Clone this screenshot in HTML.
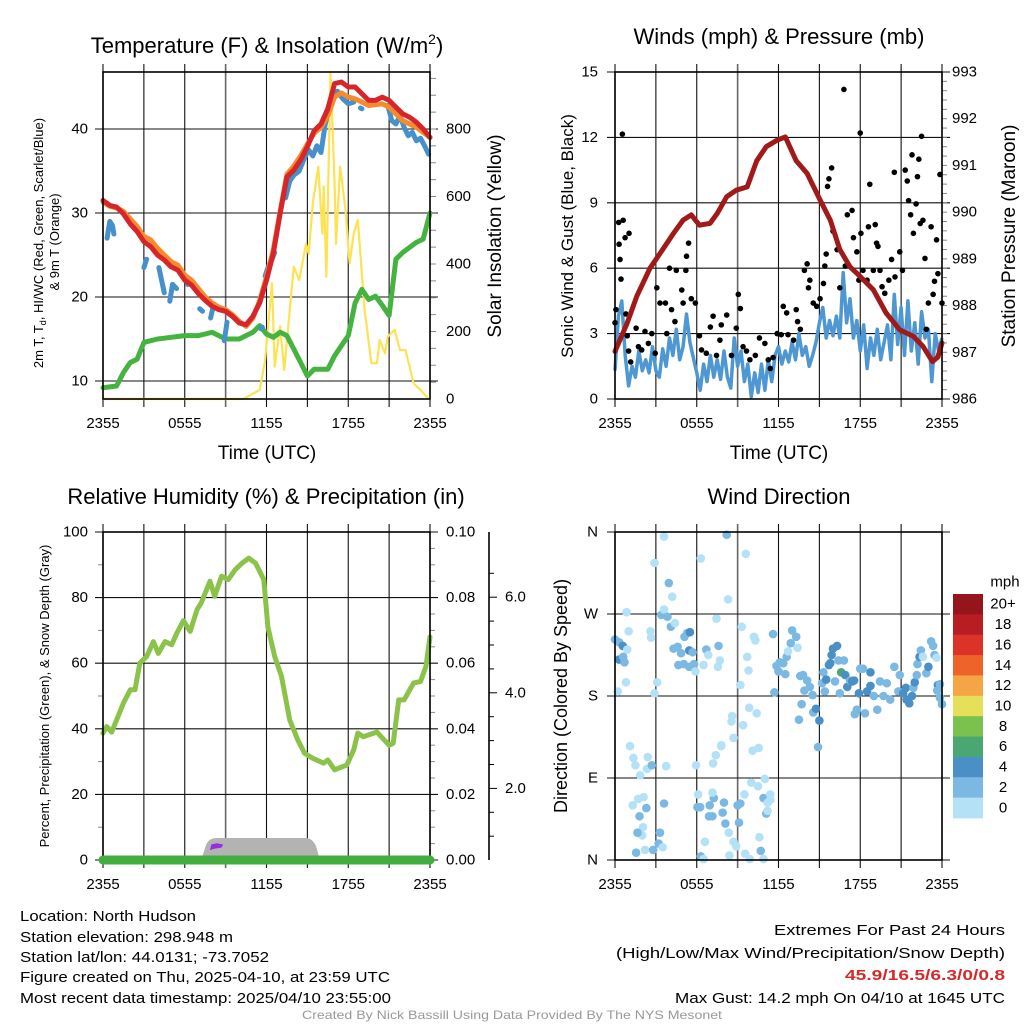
<!DOCTYPE html>
<html><head><meta charset="utf-8"><style>
html,body{margin:0;padding:0;background:#fff;}
svg{display:block;font-family:"Liberation Sans",sans-serif;}
</style></head><body>
<svg id="root" xmlns="http://www.w3.org/2000/svg" width="1024" height="1024" viewBox="0 0 1024 1024">
<rect x="0" y="0" width="1024" height="1024" fill="#fff"/>
<g font-size="22" text-anchor="middle" fill="#000">
<text x="267" y="53">Temperature (F) &amp; Insolation (W/m<tspan font-size="14" dy="-9">2</tspan><tspan dy="9">)</tspan></text>
<text x="779" y="44">Winds (mph) &amp; Pressure (mb)</text>
<text x="266" y="504">Relative Humidity (%) &amp; Precipitation (in)</text>
<text x="779" y="504">Wind Direction</text>
</g>
<g font-size="19" text-anchor="middle">
<text x="267" y="459">Time (UTC)</text>
<text x="779" y="459">Time (UTC)</text>
<text transform="translate(501,236) rotate(-90)">Solar Insolation (Yellow)</text>
<text transform="translate(1015,236) rotate(-90)">Station Pressure (Maroon)</text>
<text transform="translate(567,696) rotate(-90)" font-size="18">Direction (Colored By Speed)</text>
<text transform="translate(573,236) rotate(-90)" font-size="17">Sonic Wind &amp; Gust (Blue, Black)</text>
</g>
<g font-size="13" text-anchor="middle">
<text transform="translate(43,243) rotate(-90)">2m T, T<tspan font-size="9" dy="3">d</tspan><tspan dy="-3">, HI/WC (Red, Green, Scarlet/Blue)</tspan></text>
<text transform="translate(59,242) rotate(-90)">&amp; 9m T (Orange)</text>
<text transform="translate(49,696) rotate(-90)">Percent, Precipitation (Green), &amp; Snow Depth (Gray)</text>
</g>
<g id="p1"></g>
<g id="p2"></g>
<g id="p3"></g>
<g id="p4"></g>
<g id="cb"></g>
<g font-size="14.5" fill="#000">
<text x="20" y="921" textLength="176" lengthAdjust="spacingAndGlyphs">Location: North Hudson</text>
<text x="20" y="942" textLength="213" lengthAdjust="spacingAndGlyphs">Station elevation: 298.948 m</text>
<text x="20" y="962" textLength="249" lengthAdjust="spacingAndGlyphs">Station lat/lon: 44.0131; -73.7052</text>
<text x="20" y="982" textLength="370" lengthAdjust="spacingAndGlyphs">Figure created on Thu, 2025-04-10, at 23:59 UTC</text>
<text x="20" y="1003" textLength="371" lengthAdjust="spacingAndGlyphs">Most recent data timestamp: 2025/04/10 23:55:00</text>
<g text-anchor="end">
<text x="1005" y="935" textLength="231" lengthAdjust="spacingAndGlyphs">Extremes For Past 24 Hours</text>
<text x="1005" y="958" textLength="389" lengthAdjust="spacingAndGlyphs">(High/Low/Max Wind/Precipitation/Snow Depth)</text>
<text x="1005" y="980" fill="#d42a2a" font-weight="bold" textLength="160" lengthAdjust="spacingAndGlyphs">45.9/16.5/6.3/0/0.8</text>
<text x="1005" y="1003" textLength="330" lengthAdjust="spacingAndGlyphs">Max Gust: 14.2 mph On 04/10 at 1645 UTC</text>
</g>
<text x="512" y="1019" font-size="12" fill="#999" text-anchor="middle" textLength="420" lengthAdjust="spacingAndGlyphs">Created By Nick Bassill Using Data Provided By The NYS Mesonet</text>
</g>
</svg>
<script>
// ---------- data ----------
var timeLabels = ["2355","0555","1155","1755","2355"];
var tT = [0,0.5,1,1.5,2,2.5,3,3.5,4,4.5,5,5.5,6,6.5,7,7.5,8,8.5,9,9.5,10,10.5,11,11.5,12,12.5,13,13.5,14,14.5,15,15.5,16,16.5,17,17.5,18,18.5,19,19.5,20,20.5,21,21.5,22,22.5,23,23.5,24];
var tempRed = [31.5,30.9,30.7,29.9,28.7,27.8,26.6,26.0,25.0,24.4,23.6,23.2,22.0,21.4,20.4,19.6,18.9,18.5,18.3,17.7,16.9,16.7,17.7,19.3,22.0,25.2,29.9,34.3,35.1,36.3,37.9,39.8,40.6,42.4,45.4,45.6,45.0,45.0,44.2,43.4,43.4,43.8,43.4,42.6,41.8,41.4,40.8,40.0,39.0];
var tempOrange = [31.3,30.8,30.6,30.2,29.3,28.4,27.2,26.8,25.8,25.0,24.2,23.8,22.6,22.0,21.0,20.0,19.3,18.8,18.5,17.9,17.1,16.5,17.5,19.6,22.4,25.6,30.2,34.6,35.6,36.8,38.2,39.5,40.2,41.6,43.8,44.3,43.8,43.6,43.2,42.8,42.9,43.0,42.6,41.8,41.0,40.6,40.2,39.6,39.0];
var tempDew = [9.2,9.3,9.4,11.0,12.2,12.6,14.6,14.8,15.0,15.1,15.2,15.3,15.4,15.4,15.4,15.6,15.8,15.4,15.0,15.0,15.0,15.4,15.8,16.6,15.6,15.2,15.8,15.4,13.8,12.2,10.6,11.4,11.4,11.4,13.0,14.2,15.4,19.3,20.9,19.7,20.1,19.0,17.8,24.5,25.3,25.9,26.5,26.9,30.0];
var hiT = [0.3,0.5,0.7,0.8,null,3.0,3.2,null,4.1,4.3,4.5,null,4.9,5.1,5.4,null,6.2,6.4,null,7.1,7.3,null,7.9,8.1,null,8.9,9.1,null,11.6,11.7,null,11.9,12.1,12.4,12.6,null,13.4,13.7,14.0,14.4,14.8,15.1,15.4,15.7,16.0,16.3,16.6,16.9,17.2,17.6,18.0,18.4,null,18.9,19.0,null,20.9,21.2,21.5,21.8,22.1,22.4,22.7,23.0,23.3,23.6,23.9];
var hiVal = [27.0,29.0,28.5,27.5,null,23.5,24.5,null,23.5,22.0,20.5,null,19.5,21.5,21.0,null,21.5,22.0,null,18.6,18.3,null,17.5,19.0,null,14.8,17.0,null,16.2,16.4,null,22.5,23.5,24.5,25.3,null,31.8,33.8,34.5,35.0,36.6,37.5,36.8,38.0,37.2,40.5,42.5,43.8,44.5,43.6,43.0,43.2,null,42.5,42.4,null,42.8,41.0,40.6,41.6,40.2,39.2,39.6,38.6,38.9,38.0,37.0];
var solT = [0,10.3,11.5,11.9,12.4,12.6,13.0,13.3,14.0,14.4,14.9,15.1,15.4,15.8,16.1,16.2,16.4,16.7,17.0,17.1,17.4,17.8,18.1,18.4,18.7,19.2,19.7,20.1,20.3,20.7,20.9,21.4,21.8,22.2,22.8,23.3,23.9];
var solVal = [0,0,27,115,343,96,215,86,392,352,460,430,580,688,490,630,362,965,640,460,688,560,402,490,530,264,106,106,175,135,185,205,145,145,46,27,0];
var tempTicks = [10,20,30,40];
var solTicks = [0,200,400,600,800];

var windT = [];
for (var wi = 0; wi <= 96; wi++) { windT.push(wi / 4); }
var windVal = [1.3,3.8,4.5,2.0, 0.6,1.5,1.0,2.2, 1.3,1.8,1.2,2.4, 1.3,1.0,2.3,1.5, 2.8,2.0,3.2,1.8, 2.4,3.9,2.6,1.9, 1.2,0.4,1.6,0.8, 2.0,1.0,1.8,0.9, 2.2,1.0,0.5,2.8, 1.5,2.2,0.8,1.6, 0.1,1.2,0.3,1.6, 0.4,1.8,0.8,2.0, 2.4,1.6,2.2,1.7, 2.6,1.8,3.0,2.0, 2.4,1.5,2.0,2.6, 3.5,4.2,2.8,3.6, 2.9,3.8,2.8,5.8, 3.5,4.6,2.8,3.6, 2.2,3.4,1.4,2.8, 2.0,3.2,1.8,2.6, 3.4,1.8,4.8,2.5, 4.2,2.0,4.5,2.2, 3.5,1.6,4.0,2.8, 3.2,0.8,3.0,2.2, 2.8];
var presT = [0,0.86,1.6,2.57,3.5,4.3,5.0,5.6,6.2,6.97,7.5,8.2,8.9,9.7,10.4,11.1,11.9,12.5,13.3,14.1,15.05,15.8,16.5,17.25,18.0,18.96,19.9,20.9,21.9,22.6,23.3,23.7,24.0];
var presVal = [987.02,987.6,988.2,988.8,989.2,989.55,989.83,989.94,989.72,989.76,989.97,990.33,990.47,990.54,991.1,991.4,991.54,991.61,991.1,990.83,990.26,989.83,989.2,988.83,988.62,988.34,987.84,987.48,987.34,987.13,986.8,986.9,987.2];
var gustT = [0.0,0.07,0.3,0.27,0.54,0.6,0.37,0.44,0.74,1.03,0.8,0.9,1.0,1.15,1.55,1.72,1.96,2.2,2.45,2.7,3.07,2.95,3.3,3.7,3.8,4.0,4.15,4.4,4.5,4.9,5.0,5.25,5.4,5.2,5.6,5.9,6.2,6.35,6.7,7.0,7.2,7.45,7.7,7.8,8.2,8.55,8.9,9.05,9.2,9.4,9.65,9.9,10.3,10.6,11.0,11.25,11.4,11.6,11.9,12.2,12.35,12.6,12.7,13.1,13.3,13.4,13.6,13.9,14.1,14.2,14.3,14.55,14.8,15.05,15.3,15.4,15.5,15.6,15.7,15.9,16.0,16.3,16.5,16.8,16.9,17.05,17.4,17.5,17.75,17.9,18.0,18.05,18.2,18.5,18.6,18.7,18.96,19.1,19.2,19.3,19.45,19.6,19.8,20.1,20.3,20.5,20.55,20.9,21.1,21.3,21.45,21.55,21.7,21.8,21.9,22.1,22.2,22.3,22.4,22.5,22.6,22.75,22.85,23.0,23.2,23.35,23.45,23.6,23.7,23.85,24.0];
var gustVal = [3.5,4.1,7.1,8.1,12.15,8.2,6.4,5.5,7.4,7.6,3.9,2.9,2.2,1.7,3.25,2.4,2.25,3.1,2.55,3.0,5.1,2.1,4.4,4.4,3.0,6.0,4.1,3.55,5.9,5.0,4.4,6.55,7.15,5.9,4.6,4.4,2.9,2.25,2.1,3.3,3.8,2.0,2.7,3.4,3.85,2.0,3.25,4.8,4.15,2.4,2.2,1.8,2.0,2.8,2.55,1.8,1.4,1.9,3.0,2.95,4.25,3.95,2.95,2.7,4.1,3.55,3.2,5.9,6.2,5.1,5.45,4.4,4.25,4.6,5.3,6.1,6.65,9.75,10.1,10.6,7.7,6.85,5.1,14.2,6.1,8.45,8.65,7.4,6.75,5.45,12.2,7.6,5.9,5.45,7.9,9.85,5.9,8.0,7.15,7.0,5.9,5.15,4.85,5.45,6.4,10.4,5.6,6.75,5.9,10.5,10.0,9.1,8.45,11.2,7.6,8.95,10.2,11.0,8.05,12.05,8.2,6.45,3.2,4.4,7.9,4.8,5.4,7.3,5.75,10.3,4.4];
var windTicks = [0,3,6,9,12,15];
var presTicks = [986,987,988,989,990,991,992,993];

var rhT = [0,0.27,0.64,1.0,1.5,2.0,2.35,2.7,3.2,3.7,4.06,4.55,5.04,5.4,5.9,6.4,6.9,7.2,7.85,8.2,8.7,9.2,9.7,10.2,10.7,11.2,11.8,12.1,12.6,13.1,13.7,14.3,14.8,15.4,16.2,16.5,17.0,17.9,18.4,18.7,19.1,20.1,21.0,21.3,21.7,22.1,22.8,23.3,23.7,24.0];
var rhVal = [38.7,40.7,39,42.7,47.8,51.9,51.9,60,62,66.6,63,66.6,65.6,69,73,69.7,76.3,78.3,85,80.4,86.5,85.5,88.5,90.5,92,90.5,85.5,71,62,56,42.7,36.6,32.5,31,29.5,30.5,27.5,29,33.6,38.7,37.6,39,35,35.6,48.8,48.8,54,54.4,59,68];
var precipT = [0,24];
var precipVal = [0,0];
var rhTicks = [0,20,40,60,80,100];
var precipTicks = ["0.00","0.02","0.04","0.06","0.08","0.10"];
var snowTicks = [2,4,6];

var dirT = [0,0.3,0.57,0.3,0.6,0.7,0.9,0.85,1.0,0.8,0.2,1.1,1.35,1.5,1.3,1.85,1.7,2.1,2.3,1.8,2.05,2.0,1.65,1.55,2.2,2.4,2.35,2.7,2.8,2.9,2.9,3.1,3.2,3.3,3.5,3.4,3.6,3.6,3.85,3.95,4.2,4.1,4.4,3.6,3.75,2.6,2.65,4.3,4.6,4.85,5.1,5.3,5.5,5.45,5.7,4.65,5.05,5.45,5.8,5.9,6.3,6.5,6.7,6.85,7.2,7.4,7.6,7.7,7.55,7.45,7.8,5.95,6.1,6.05,6.25,6.95,7.25,7.15,6.9,7.15,7.9,8.0,8.1,8.35,8.7,8.9,8.4,6.6,6.3,6.5,8.2,8.3,8.55,8.6,8.7,7.8,9.2,9.3,9.4,9.5,9.1,9.0,9.2,9.55,9.9,9.6,9.7,9.8,9.85,10.0,10.1,10.2,10.3,10.4,10.55,10.5,10.6,10.7,10.9,10.9,11.1,11.2,11.0,11.4,11.2,11.4,11.6,11.7,11.85,12.0,12.1,12.35,12.5,12.6,12.7,12.9,13.0,13.3,13.4,13.5,13.6,13.8,14.1,13.9,13.7,14.3,14.5,14.55,14.75,15.0,14.9,15.2,15.3,15.4,15.5,15.7,15.8,15.9,16.0,16.3,16.4,16.15,16.5,16.6,16.8,16.9,17.05,17.25,17.4,17.55,17.6,17.75,17.9,18.0,18.2,18.35,18.5,18.75,18.75,19.0,19.25,19.45,19.7,19.95,20.2,20.5,20.8,20.9,21.15,21.35,21.4,21.6,21.8,21.9,22.0,22.15,22.2,22.35,22.45,22.6,22.85,23.0,23.2,23.35,23.45,23.6,23.7,23.85,23.65,23.85,24.0];
var dirDeg = [242,239,235,220,223,217,231,272,251,195,185,125,112,104,60,93,67,69,57,48,36,27,30,8,11,113,100,104,11,326,183,195,18,30,14,269,355,275,267,304,289,256,260,62,103,251,244,232,234,227,245,249,250,230,228,214,215,212,215,207,331,214,231,225,106,115,235,219,212,265,125,104,72,58,58,60,68,74,48,48,52,63,40,30,20,15,5,20,4,1,357,286,152,158,134,126,192,256,148,72,41,60,62,7,1,336,223,208,167,85,120,245,241,161,123,81,25,10,1,68,51,54,89,72,63,66,248,184,213,207,217,216,204,223,229,238,252,245,233,154,202,203,197,186,171,190,181,162,166,153,124,194,206,185,198,214,216,225,232,235,219,196,183,206,219,203,190,197,196,197,160,165,183,210,210,161,185,206,191,180,165,196,180,194,176,212,185,203,183,189,176,172,180,189,195,203,215,223,230,223,205,212,240,235,225,222,192,193,186,178,171];
var dirSpd = [3,3,5,5,3,3,1,1,1,1,1,1,1,1,1,1,1,1,3,3,1,1,3,3,1,1,1,3,3,1,1,1,3,3,1,3,1,1,3,3,1,3,1,3,1,1,1,3,3,3,3,3,5,5,3,3,3,3,3,1,1,1,3,1,1,1,3,1,1,1,1,1,1,3,3,3,3,1,3,3,3,3,3,1,1,1,1,1,3,1,3,1,1,1,1,1,1,1,1,1,3,3,3,1,1,1,1,1,1,1,1,1,1,1,1,1,1,3,1,3,3,1,1,1,1,1,3,3,3,3,3,3,3,3,1,3,3,3,1,3,3,3,3,3,3,3,3,3,5,5,3,3,3,3,5,5,5,5,5,5,3,3,3,7,3,5,5,3,5,5,3,3,5,3,3,3,5,5,5,3,3,3,3,3,3,3,3,3,5,5,5,5,5,3,5,3,3,5,3,1,3,5,3,3,3,1,5,3,3,3];
var dirLabels = ["N","E","S","W","N"];
var dirTicks = [0,90,180,270,360];
var cbLabels = ["20+","18","16","14","12","10","8","6","4","2","0"];
var cbColors = ["#95161a","#b91d24","#dc3228","#ee6329","#f5a546","#e6df5a","#7bc14d","#49a772","#4a8fc6","#7bb9e3","#b4e1f6"];

// ---------- helpers ----------
var NS = "http://www.w3.org/2000/svg";
function el(tag, parent, attrs){var e=document.createElementNS(NS,tag);for(var k in attrs)e.setAttribute(k,attrs[k]);parent.appendChild(e);return e;}
function pathFrom(xs, ys, fx, fy){var d="",pen=false;for(var i=0;i<xs.length;i++){if(xs[i]===null||ys[i]===null||ys[i]===undefined){pen=false;continue;}d+=(pen?"L":"M")+fx(xs[i]).toFixed(1)+","+fy(ys[i]).toFixed(1);pen=true;}return d;}
var TW = 327/24;
function X1(t){return 103+t*TW;}
function X2(t){return 615+t*TW;}

function frame(g, x0, y0, x1, y1, name){
  for (var h=0; h<=24; h+=3){
    var x = x0 + h*TW;
    var gray = (h===9);
    var v = el("line", g, {x1:x,y1:y0-8,x2:x,y2:y1+8,stroke:gray?"#666":"#111","stroke-width":gray?1.6:1.1});
    
    
  }
  for (var i=0;i<timeLabels.length;i++){
    var tx = el("text", g, {x:x0+i*6*TW, y:y1+29, "font-size":15, "text-anchor":"middle"});
    tx.textContent = timeLabels[i];
    
    
  }
}
function border(g,x0,y0,x1,y1,name){
  var r = el("rect", g, {x:x0,y:y0,width:x1-x0,height:y1-y0,fill:"none",stroke:"#000","stroke-width":1.6});
  
  
}
function hgrid(g, y, x0, x1, name){
  var l = el("line", g, {x1:x0-8,y1:y,x2:x1+8,y2:y,stroke:"#111","stroke-width":1.1});
  
  
}
function label(g, x, y, txt, anchor, name, size){
  var t = el("text", g, {x:x,y:y,"font-size":size||15,"text-anchor":anchor,"dominant-baseline":"central"});
  t.textContent = txt;
  
  
  return t;
}
function minor(g, x, y, len, name){
  var m = el("line", g, {x1:x,y1:y,x2:x+len,y2:y,stroke:"#888","stroke-width":1});
  
  
}

// ---------- panel 1 ----------
(function(){
  var g = document.getElementById("p1");
  function YL(v){return 129+(40-v)*8.4;}
  function YR(w){return 399-w*0.3375;}
  frame(g,103,72,430,399,"temp");
  for (var i=0;i<tempTicks.length;i++){ hgrid(g, YL(tempTicks[i]), 103, 430, "temp"); label(g, 88, YL(tempTicks[i]), String(tempTicks[i]), "end", "temp-y-tick-label"); }
  for (var w=50; w<=950; w+=50){ minor(g, 430, YR(w), 6, "insolation-minor-tick"); }
  for (var j=0;j<solTicks.length;j++){ label(g, 446, YR(solTicks[j]), String(solTicks[j]), "start", "insolation-tick-label"); }
  var sol = el("path", g, {d:pathFrom(solT,solVal,X1,YR),fill:"none",stroke:"#fde253","stroke-width":2.2,"stroke-linejoin":"round"});
  
  
  var dew = el("path", g, {d:pathFrom(tT,tempDew,X1,YL),fill:"none",stroke:"#45b33f","stroke-width":5,"stroke-linejoin":"round","stroke-linecap":"round"});
  
  
  var hi = el("path", g, {d:pathFrom(hiT,hiVal,X1,YL),fill:"none",stroke:"#4690cc","stroke-width":5,"stroke-linejoin":"round","stroke-linecap":"round"});
  
  
  var or = el("path", g, {d:pathFrom(tT,tempOrange,X1,YL),fill:"none",stroke:"#f58a2e","stroke-width":5,"stroke-linejoin":"round","stroke-linecap":"round"});
  
  
  var red = el("path", g, {d:pathFrom(tT,tempRed,X1,YL),fill:"none",stroke:"#d7262a","stroke-width":5,"stroke-linejoin":"round","stroke-linecap":"round"});
  
  
  border(g,103,72,430,399,"temp");
})();

// ---------- panel 2 ----------
(function(){
  var g = document.getElementById("p2");
  function YL(v){return 399-v*21.8;}
  function YR(p){return 399-(p-986)*46.714;}
  frame(g,615,72,942,399,"wind");
  for (var i=0;i<windTicks.length;i++){ hgrid(g, YL(windTicks[i]), 615, 942, "wind"); label(g, 598, YL(windTicks[i]), String(windTicks[i]), "end", "wind-y-tick-label"); }
  for (var p=986.2; p<993; p+=0.2){ minor(g, 942, YR(p), 5, "pressure-minor-tick"); }
  for (var j=0;j<presTicks.length;j++){ label(g, 952, YR(presTicks[j]), String(presTicks[j]), "start", "pressure-tick-label"); }
  var wl = el("path", g, {d:pathFrom(windT,windVal,X2,YL),fill:"none",stroke:"#4f97d2","stroke-width":3.5,"stroke-linejoin":"round"});
  
  
  for (var k=0;k<gustT.length;k++){
    var c = el("circle", g, {cx:X2(gustT[k]),cy:YL(gustVal[k]),r:2.8,fill:"#000"});
    
    
  }
  var pl = el("path", g, {d:pathFrom(presT,presVal,X2,YR),fill:"none",stroke:"#a01a1a","stroke-width":5,"stroke-linejoin":"round","stroke-linecap":"round"});
  
  
  border(g,615,72,942,399,"wind");
})();

// ---------- panel 3 ----------
(function(){
  var g = document.getElementById("p3");
  function YL(v){return 860-v*3.28;}
  frame(g,103,532,430,860,"rh");
  for (var i=0;i<rhTicks.length;i++){
    hgrid(g, YL(rhTicks[i]), 103, 430, "rh");
    label(g, 88, YL(rhTicks[i]), String(rhTicks[i]), "end", "rh-y-tick-label");
    label(g, 446, YL(rhTicks[i]), precipTicks[i], "start", "precip-tick-label");
  }
  for (var m=10; m<100; m+=20){ var ml=el("line",g,{x1:98,y1:YL(m),x2:103,y2:YL(m),stroke:"#888"});   }
  for (var m2=5; m2<100; m2+=5){ if (m2%20) minor(g, 430, YL(m2), 5, "precip-minor-tick"); }
  var sa = el("line", g, {x1:489,y1:532,x2:489,y2:860,stroke:"#000","stroke-width":1.6});
  
  
  function YS(s){return 884-s*47.8;}
  for (var s=0.5; s<7; s+=0.5){ if (YS(s)>532 && YS(s)<860){ var st=el("line",g,{x1:489,y1:YS(s),x2:(s%2===0)?497:494,y2:YS(s),stroke:"#000","stroke-width":1});   } }
  for (var q=0;q<snowTicks.length;q++){ label(g, 505, YS(snowTicks[q]), snowTicks[q].toFixed(1), "start", "snow-depth-tick-label"); }
  var sn = el("path", g, {d:"M201,860 L206,845 Q209,838 216,838 L306,838 Q312,838 316,846 L320,860 Z",fill:"#b3b3b3"});
  
  
  var pu = el("path", g, {d:"M211,849 L212,845 L217,844 L222,845 L221,847 L214,848 Z",fill:"#9a2de0",stroke:"#9a2de0","stroke-width":1.5});
  
  
  var rh = el("path", g, {d:pathFrom(rhT,rhVal,X1,YL),fill:"none",stroke:"#8bc34a","stroke-width":5,"stroke-linejoin":"round","stroke-linecap":"round"});
  
  
  border(g,103,532,430,860,"rh");
  function YP(p){return 860-p*3280;}
  var pr = el("path", g, {d:pathFrom(precipT,precipVal,X1,YP),fill:"none",stroke:"#43ad3f","stroke-width":9,"stroke-linecap":"round"});
  
  
})();

// ---------- panel 4 ----------
(function(){
  var g = document.getElementById("p4");
  function YD(d){return 860-d*328/360;}
  frame(g,615,532,942,860,"dir");
  for (var i=0;i<dirTicks.length;i++){ hgrid(g, YD(dirTicks[i]), 615, 942, "dir"); label(g, 598, YD(dirTicks[i]), dirLabels[i], "end", "direction-tick-label"); }
  var pal = {1:"#b4e1f6",3:"#7bb9e3",5:"#4a8fc6",7:"#49a772"};
  var n = Math.min(dirT.length, dirDeg.length);
  for (var k=0;k<n;k++){
    var c = el("circle", g, {cx:X2(dirT[k]),cy:YD(dirDeg[k]),r:4.3,fill:pal[dirSpd[k]]||"#7bb9e3"});
    
    
  }
  border(g,615,532,942,860,"dir");
})();

// ---------- colorbar ----------
(function(){
  var g = document.getElementById("cb");
  var h = 224/cbColors.length;
  for (var i=0;i<cbColors.length;i++){
    var r = el("rect", g, {x:953,y:594+i*h,width:30,height:h+0.4,fill:cbColors[i]});
    
    
    label(g, 1003, 594+i*h+h/2, cbLabels[i], "middle", "colorbar-label", 15);
  }
  label(g, 1005, 582, "mph", "middle", "colorbar-title", 15);
})();
</script>
</body></html>
